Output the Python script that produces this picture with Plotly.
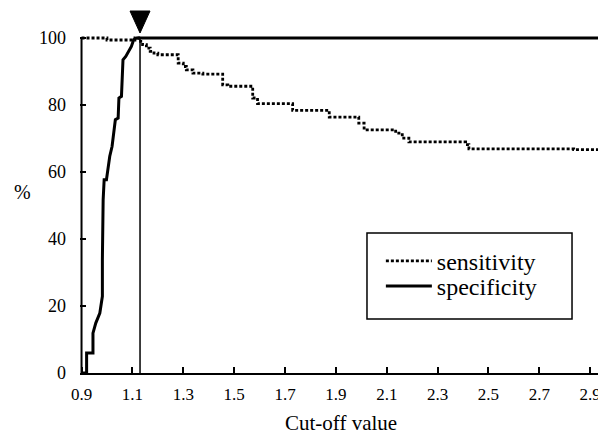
import plotly.graph_objects as go

# ---- data ----
sens_x = [0.90, 1.00, 1.11, 1.125, 1.14, 1.155, 1.17, 1.185, 1.20, 1.28, 1.30, 1.312, 1.338, 1.377,
          1.455, 1.475, 1.573, 1.592, 1.62, 1.73, 1.874, 1.99, 2.011, 2.135, 2.161, 2.187,
          2.41, 2.423, 2.835, 2.943, 2.962]
sens_y = [100, 99.4, 100, 99, 98, 97, 96, 95.5, 95, 92.5, 91.5, 90.5, 89.5, 89.2,
          86, 85.6, 82.1, 80.4, 80.4, 78.4, 76.4, 74.6, 72.6, 71.6, 70.1, 69.0,
          68.2, 66.9, 66.7, 65.2, 65.2]

spec_x = [0.90, 0.92, 0.92, 0.945, 0.945, 0.956, 0.972, 0.982, 0.982, 0.985, 0.989, 0.998,
          1.011, 1.020, 1.033, 1.044, 1.047, 1.057, 1.063, 1.074, 1.096, 1.105, 1.116, 2.962]
spec_y = [0, 0, 6, 6, 11.9, 14.9, 17.9, 22.9, 33.8, 51.7, 57.7, 57.7,
          64.7, 67.6, 75.6, 76.1, 82.1, 82.6, 93.5, 94.5, 97.5, 99.5, 100, 100]

x_ticks = [0.9, 1.1, 1.3, 1.5, 1.7, 1.9, 2.1, 2.3, 2.5, 2.7, 2.9]
x_tick_labels = ["0.9", "1.1", "1.3", "1.5", "1.7", "1.9", "2.1", "2.3", "2.5", "2.7", "2.9"]
y_ticks = [0, 20, 40, 60, 80, 100]
y_tick_labels = ["0", "20", "40", "60", "80", "100"]
cutoff = 1.13

FONT = "Liberation Serif, Times New Roman, serif"

fig = go.Figure()
fig.add_trace(go.Scatter(x=sens_x, y=sens_y, mode="lines", name="sensitivity", legend="legend",
                         line=dict(color="black", width=2.8, dash="3px,2px", shape="hv")))
fig.add_trace(go.Scatter(x=spec_x, y=spec_y, mode="lines", name="specificity", legend="legend2",
                         line=dict(color="black", width=3)))

# cut-off vertical line
fig.add_shape(type="line", xref="x", yref="y", x0=cutoff, x1=cutoff, y0=0, y1=100,
              line=dict(color="black", width=1.5))
# arrow marker above the cut-off
fig.add_shape(type="path", xref="x", yref="y", xsizemode="pixel", ysizemode="pixel",
              xanchor=cutoff, yanchor=100, path="M-10,27 L10,27 L0,5 Z",
              fillcolor="black", line=dict(color="black", width=1))
# y axis line (0..100 only)
fig.add_shape(type="line", xref="x", yref="y", x0=0.9, x1=0.9, y0=0, y1=100,
              line=dict(color="black", width=2))
# legend box
fig.add_shape(type="rect", xref="paper", yref="paper", x0=0.5456, x1=0.9354, y0=0.1479, y1=0.3836,
              line=dict(color="black", width=1.5), fillcolor="rgba(0,0,0,0)")

fig.add_annotation(text="Cut-off value", xref="paper", yref="paper", x=0.496, y=-0.137,
                   showarrow=False, xanchor="center", yanchor="middle",
                   font=dict(family=FONT, size=21, color="black"))
fig.add_annotation(text="%", xref="paper", yref="paper", x=-0.110, y=0.496,
                   showarrow=False, xanchor="center", yanchor="middle",
                   font=dict(family=FONT, size=20, color="black"))

leg_common = dict(xanchor="left", yanchor="top", bgcolor="rgba(0,0,0,0)", borderwidth=0,
                  font=dict(family=FONT, size=24, color="black"), itemwidth=46)

fig.update_layout(
    width=598, height=429,
    margin=dict(l=72, r=0, t=0, b=64),
    paper_bgcolor="white", plot_bgcolor="white",
    font=dict(family=FONT, color="black"),
    showlegend=True,
    legend=dict(x=0.572, y=0.368, **leg_common),
    legend2=dict(x=0.572, y=0.299, **leg_common),
    xaxis=dict(range=[0.894, 2.962], tickvals=x_ticks, ticktext=x_tick_labels,
               ticks="inside", ticklen=6, tickwidth=1.5, tickcolor="black",
               showline=True, linecolor="black", linewidth=2,
               showgrid=False, zeroline=False, ticklabelstandoff=5,
               tickfont=dict(family=FONT, size=17, color="black")),
    yaxis=dict(range=[0, 108.96], tickvals=y_ticks, ticktext=y_tick_labels,
               ticks="inside", ticklen=6, tickwidth=1.5, tickcolor="black",
               showline=False, showgrid=False, zeroline=False, ticklabelstandoff=13,
               tickfont=dict(family=FONT, size=18, color="black")),
)

fig.write_html("out.html")
